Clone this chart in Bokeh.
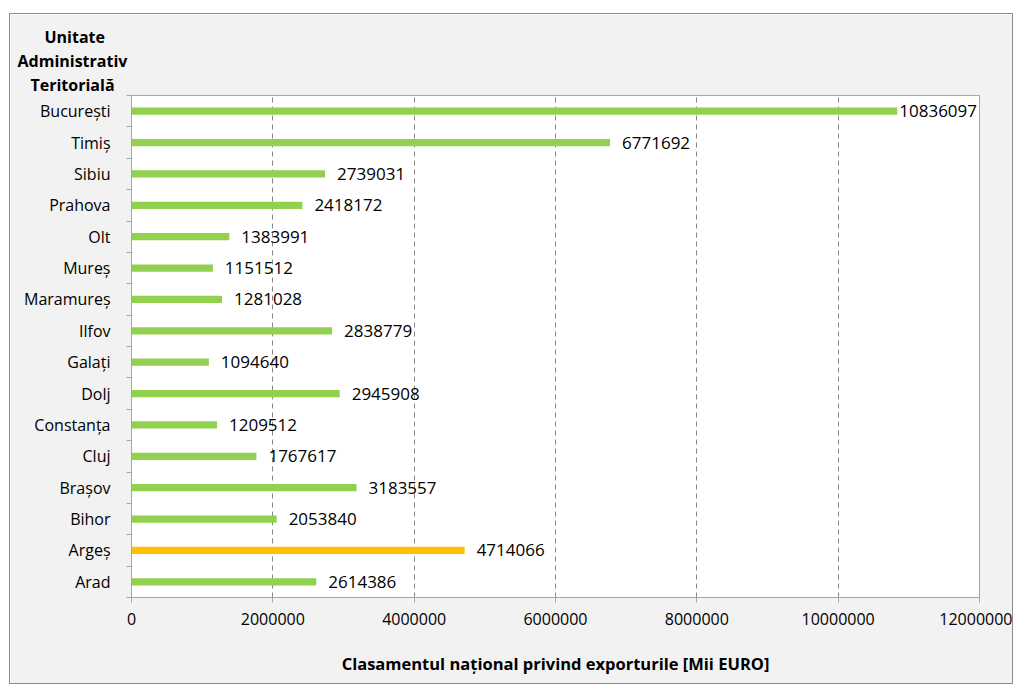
import numpy as np
from bokeh.plotting import figure
from bokeh.models import ColumnDataSource, FixedTicker, Range1d, Title, Spacer
from bokeh.layouts import column, row
from bokeh.core.properties import value
from bokeh.embed import file_html
from bokeh.resources import INLINE

# Data (bottom to top)
regions = ["Arad", "Argeș", "Bihor", "Brașov", "Cluj", "Constanța", "Dolj", "Galați",
           "Ilfov", "Maramureș", "Mureș", "Olt", "Prahova", "Sibiu", "Timiș", "București"]
exports = [2614386, 4714066, 2053840, 3183557, 1767617, 1209512, 2945908, 1094640,
           2838779, 1281028, 1151512, 1383991, 2418172, 2739031, 6771692, 10836097]
highlight = "Argeș"
x_ticks = [0, 2000000, 4000000, 6000000, 8000000, 10000000, 12000000]
x_title = "Clasamentul național privind exporturile [Mii EURO]"
y_title_lines = ["Unitate", "Administrativ", "Teritorială"]

GREEN = "#92d050"
ORANGE = "#ffc000"

XMAX = 12000000
FRAME_W = 848
FRAME_H = 502
n = len(regions)
px_per_x = FRAME_W / XMAX

pos = list(range(n))
colors = [ORANGE if r == highlight else GREEN for r in regions]
# labels that would overflow the frame are pulled close to the bar end
offsets = [12 if (v * px_per_x + 12 + 80) < FRAME_W else 2 for v in exports]
src = ColumnDataSource(dict(y=pos, v=exports, c=colors, off=offsets,
                            lab=[str(v) for v in exports]))

W, H = 1004, 671
p = figure(width=W, height=H, output_backend="svg", toolbar_location=None,
           x_range=Range1d(0, XMAX), y_range=Range1d(-0.5, n - 0.5),
           min_border_left=121, min_border_right=W - 121 - FRAME_W,
           min_border_top=81, min_border_bottom=H - 81 - FRAME_H)

p.background_fill_color = "white"
p.border_fill_color = "#f2f2f2"
p.outline_line_color = "#a6a6a6"
p.outline_line_width = 1
p.styles = {"border": "1px solid #8c8c8c", "box-sizing": "border-box"}

p.hbar(y="y", right="v", left=0, height=0.23, color="c", source=src, line_color=None)
p.text(x="v", y="y", text="lab", source=src, x_offset="off", text_baseline="middle",
       text_align="left", text_font=value("Open Sans"), text_font_size="17px", text_color="black")

# X axis
xa = p.xaxis[0]
xa.ticker = FixedTicker(ticks=x_ticks, minor_ticks=[])
xa.major_label_overrides = {t: str(t) for t in x_ticks}
xa.axis_line_color = "#a6a6a6"
xa.major_tick_line_color = "#a6a6a6"
xa.major_tick_out = 5
xa.major_tick_in = 0
xa.minor_tick_line_color = None
xa.major_label_standoff = 10
xa.major_label_text_font = "Open Sans"
xa.major_label_text_font_size = "16px"
xa.major_label_text_color = "black"
xa.axis_label = x_title
xa.axis_label_text_font = "Open Sans"
xa.axis_label_text_font_style = "bold"
xa.axis_label_text_font_size = "16.5px"
xa.axis_label_text_color = "black"
xa.axis_label_standoff = 24

# Y axis
ya = p.yaxis[0]
ya.ticker = FixedTicker(ticks=pos, minor_ticks=[i - 0.5 for i in range(n + 1)])
ya.major_label_overrides = {i: r for i, r in enumerate(regions)}
ya.axis_line_color = "#a6a6a6"
ya.major_tick_line_color = None
ya.major_tick_out = 0
ya.major_tick_in = 0
ya.minor_tick_line_color = "#a6a6a6"
ya.minor_tick_out = 5
ya.minor_tick_in = 0
ya.major_label_standoff = 16
ya.major_label_text_font = "Open Sans"
ya.major_label_text_font_size = "16px"
ya.major_label_text_color = "black"

# Grid
p.ygrid.grid_line_color = None
p.xgrid.ticker = FixedTicker(ticks=x_ticks[1:-1])
p.xgrid.grid_line_color = "#868686"
p.xgrid.grid_line_dash = "5 4"
p.xgrid.grid_line_width = 1

# Y title: three stacked titles above the frame, shifted left over the category axis
title_offsets = {"Unitate": -87, "Administrativ": -114, "Teritorială": -101}
for line in reversed(y_title_lines):
    p.add_layout(Title(text=line, align="left", offset=title_offsets[line], standoff=0,
                       text_font="Open Sans", text_font_style="bold",
                       text_font_size="16px", text_color="black"), "above")

layout = row(Spacer(width=9, height=10), column(Spacer(width=10, height=13), p))
open("out.html", "w").write(file_html(layout, INLINE))
